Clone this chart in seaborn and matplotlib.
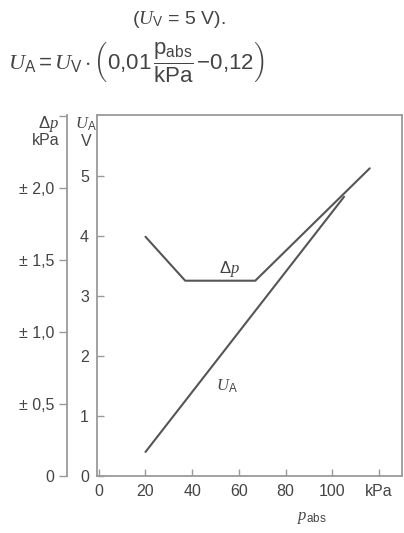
import matplotlib
matplotlib.use("Agg")
import matplotlib.pyplot as plt
import seaborn as sns
import pandas as pd

# ---- data ----
ua_p = [20, 105]            # kPa
ua_v = [0.4, 4.65]          # V
dp_p = [20, 37, 67, 116]    # kPa
dp_v = [1.66, 1.355, 1.355, 2.135]  # kPa (±)

x_ticks = [0, 20, 40, 60, 80, 100, 120]
x_labels = ["0", "20", "40", "60", "80", "100", "kPa"]
ua_ticks = [0, 1, 2, 3, 4, 5]
ua_labels = ["0", "1", "2", "3", "4", "5"]
dp_ticks = [0, 0.5, 1.0, 1.5, 2.0, 2.5]
dp_labels = ["0", "± 0,5", "± 1,0", "± 1,5", "± 2,0", ""]

sns.set_theme(style="ticks")
plt.rcParams['font.family'] = ['Liberation Sans', 'DejaVu Sans']
plt.rcParams['mathtext.fontset'] = 'custom'
plt.rcParams['mathtext.rm'] = 'Liberation Sans'
plt.rcParams['mathtext.it'] = 'Liberation Serif:italic'
plt.rcParams['mathtext.bf'] = 'Liberation Sans:bold'

TXT = "#444444"
LINE = "#555555"
SPINE = "#9a9a9a"

fig = plt.figure(figsize=(4.04, 5.33), dpi=100)
ax = fig.add_axes([0.241, 0.107, 0.754, 0.677])

df_ua = pd.DataFrame({"p": ua_p, "v": ua_v})
df_dp = pd.DataFrame({"p": dp_p, "v": dp_v})

sns.lineplot(data=df_ua, x="p", y="v", ax=ax, color=LINE, lw=1.5, sort=False)
ax.set_xlim(-0.6, 129.8)
ax.set_ylim(0, 6.01)
ax.set_xticks(x_ticks)
ax.set_xticklabels(x_labels)
ax.set_yticks(ua_ticks)
ax.set_yticklabels(ua_labels)
ax.set_xlabel("")
ax.set_ylabel("")
ax.tick_params(axis="both", direction="in", length=5, width=1, color=SPINE,
               labelcolor=TXT, labelsize=11.5, pad=6)
for s in ax.spines.values():
    s.set_color(SPINE)
    s.set_linewidth(1.3)

ax2 = ax.twinx()
sns.lineplot(data=df_dp, x="p", y="v", ax=ax2, color=LINE, lw=1.5, sort=False)
ax2.set_ylim(0, 2.504)
ax2.set_xlim(-0.6, 129.8)
ax2.yaxis.set_ticks_position("left")
ax2.yaxis.set_label_position("left")
ax2.spines["left"].set_position(("outward", 22))
ax2.spines["left"].set_visible(True)
for k in ["right", "top", "bottom"]:
    ax2.spines[k].set_visible(False)
ax2.spines["left"].set_color(SPINE)
ax2.spines["left"].set_linewidth(1.3)
ax2.set_yticks(dp_ticks)
ax2.set_yticklabels(dp_labels)
ax2.set_ylabel("")
ax2.tick_params(axis="y", direction="out", length=6, width=1, color=SPINE,
                labelcolor=TXT, labelsize=11.5, pad=3)

# curve labels
ax.text(56, 3.45, r"$\Delta p$", color=TXT, fontsize=12, ha="center", va="center")
ax.text(55, 1.5, r"$U_\mathrm{A}$", color=TXT, fontsize=12, ha="center", va="center")

# axis unit labels
fig.text(48 / 404, 1 - 124 / 533, r"$\Delta p$", color=TXT, fontsize=12, ha="center", va="center")
fig.text(46 / 404, 1 - 140 / 533, "kPa", color=TXT, fontsize=11.5, ha="center", va="center")
fig.text(86 / 404, 1 - 124 / 533, r"$U_\mathrm{A}$", color=TXT, fontsize=12, ha="center", va="center")
fig.text(86 / 404, 1 - 141 / 533, "V", color=TXT, fontsize=11.5, ha="center", va="center")

# x axis label
fig.text(312 / 404, 1 - 518 / 533, r"$p_\mathrm{abs}$", color=TXT, fontsize=12, ha="center", va="center")

# header formulas
fig.text(179 / 404, 1 - 20 / 533, r"$(U_\mathrm{V}$ = 5 V).", color=TXT, fontsize=14,
         ha="center", va="center")
fig.text(8 / 404, 1 - 62 / 533,
         r"$U_\mathrm{A} = U_\mathrm{V} \cdot \left(0{,}01\,\dfrac{\mathrm{p_{abs}}}{\mathrm{kPa}}\,\mathrm{-}0{,}12\right)$",
         color=TXT, fontsize=16, ha="left", va="center")

fig.savefig("out.png", dpi=100)
